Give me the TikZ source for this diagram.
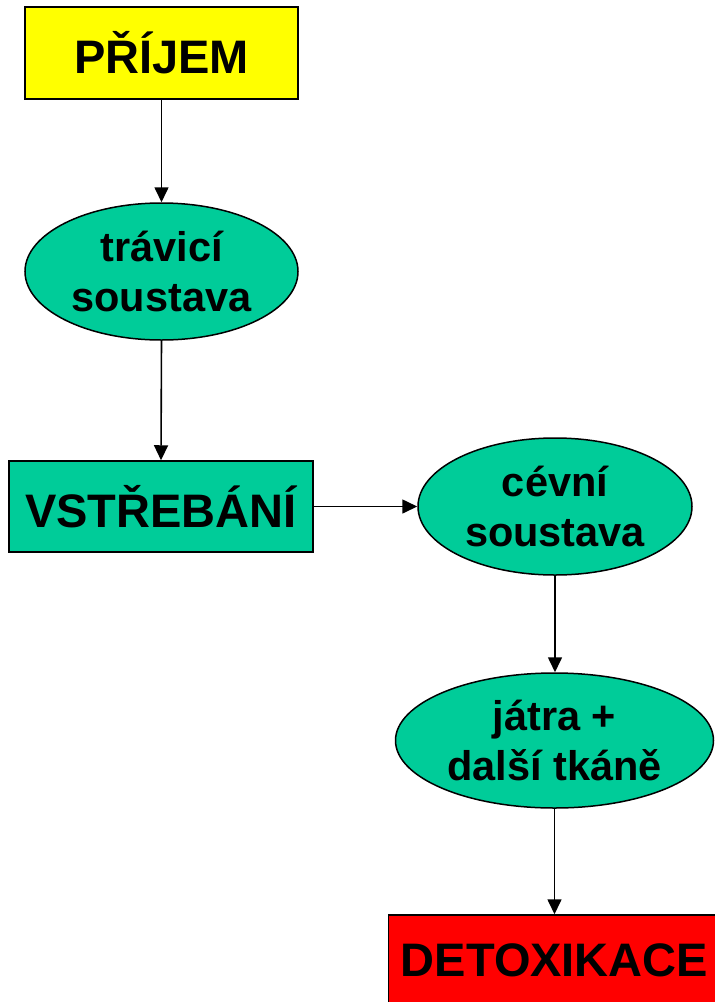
\documentclass[tikz,border=0pt]{standalone}
\usepackage{fontspec}
\setmainfont{Liberation Sans}
\usetikzlibrary{shapes.geometric,arrows.meta}
\definecolor{boxyellow}{HTML}{FFFF00}
\definecolor{organgreen}{HTML}{00CC99}
\definecolor{alertred}{HTML}{FF0000}
\tikzset{
  stagebox/.style={draw=black, line width=1.5pt, rectangle, inner sep=0pt,
    font=\fontsize{47}{56}\selectfont\bfseries},
  organ/.style={draw=black, line width=1.5pt, ellipse, fill=organgreen, inner sep=0pt,
    align=center, font=\fontsize{41.5}{50}\selectfont\bfseries},
  flow/.style={draw=black, line width=1.6pt, -{Triangle[length=15pt,width=14pt]}}
}
\begin{document}
\begin{tikzpicture}[x=1pt,y=-1pt]
  \useasboundingbox (0,0) rectangle (715,1002);
  \clip (0,0) rectangle (715,1002);
  \node[stagebox, fill=boxyellow, minimum width=273pt, minimum height=92pt] (prijem) at (161.5,53) {PŘÍJEM};
  \node[organ, minimum width=273pt, minimum height=137pt] (travici) at (161.5,271.5) {trávicí\\soustava};
  \node[stagebox, fill=organgreen, minimum width=304pt, minimum height=91pt] (vstrebani) at (161,506.5) {VSTŘEBÁNÍ};
  \node[organ, minimum width=274pt, minimum height=137pt] (cevni) at (555,506.5) {cévní\\soustava};
  \node[organ, minimum width=318pt, minimum height=135pt] (jatra) at (554.5,740.5) {játra +\\další tkáně};
  \node[stagebox, fill=alertred, minimum width=332pt, minimum height=91pt] (detox) at (554.5,960.5) {DETOXIKACE};
  \draw[flow] (prijem.south) -- (travici.north);
  \draw[flow] (travici.south) -- (vstrebani.north);
  \draw[flow] (vstrebani.east) -- (cevni.west);
  \draw[flow] (cevni.south) -- (cevni.south |- jatra.north);
  \draw[flow] (jatra.south) -- (detox.north);
\end{tikzpicture}
\end{document}
